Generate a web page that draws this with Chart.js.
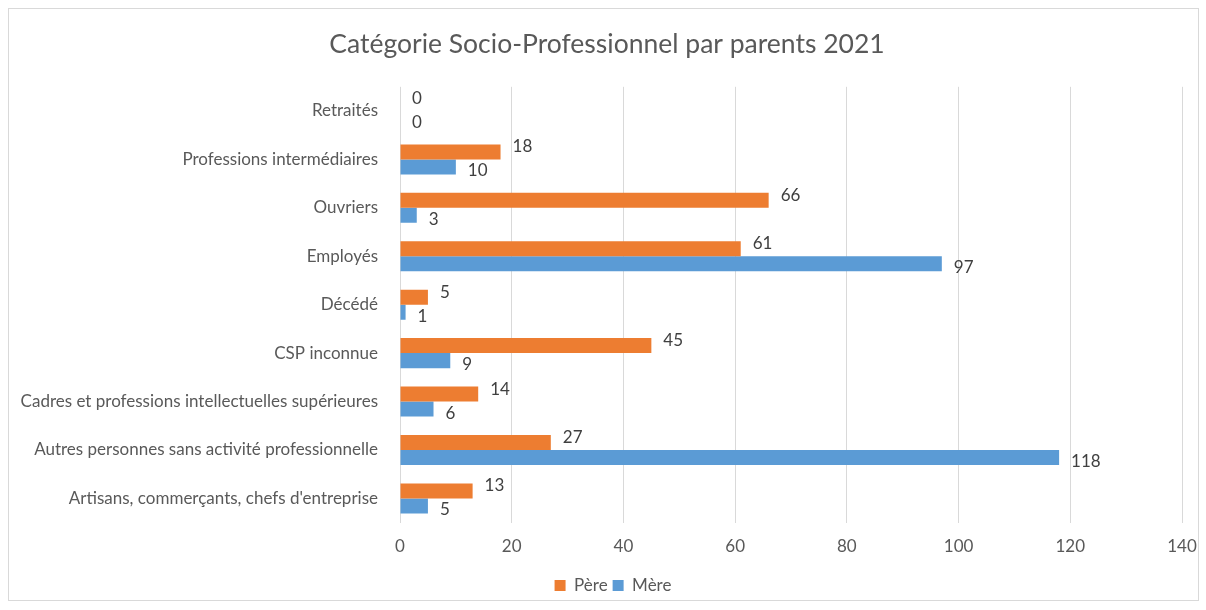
<!DOCTYPE html>
<html>
<head>
<meta charset="utf-8">
<script src="https://cdn.jsdelivr.net/npm/chart.js@4"></script>
<style>
  html, body { margin: 0; padding: 0; background: #fff; }
  #wrap { position: relative; width: 1206px; height: 610px; }
  #frame { position: absolute; left: 8px; top: 8px; width: 1189px; height: 591px; border: 1px solid #d9d9d9; pointer-events: none; }
</style>
</head>
<body>
<div id="wrap">
  <canvas id="cspChart" width="1206" height="610"></canvas>
  <div id="frame"></div>
</div>
<script>
  // categories, top to bottom as in the picture
  const categories = [
    'Retraités',
    'Professions intermédiaires',
    'Ouvriers',
    'Employés',
    'Décédé',
    'CSP inconnue',
    'Cadres et professions intellectuelles supérieures',
    'Autres personnes sans activité professionnelle',
    'Artisans, commerçants, chefs d\'entreprise'
  ];
  const pere = [0, 18, 66, 61, 5, 45, 14, 27, 13];
  const mere = [0, 10, 3, 97, 1, 9, 6, 118, 5];
  const xTicks = [0, 20, 40, 60, 80, 100, 120, 140];

  const FONT = 'Lato, "Open Sans", sans-serif';
  const GREY = '#595959';

  // value labels next to bar ends
  const valueLabels = {
    id: 'valueLabels',
    afterDatasetsDraw(chart) {
      const ctx = chart.ctx;
      ctx.save();
      ctx.font = '17px ' + FONT;
      ctx.fillStyle = '#404040';
      ctx.textBaseline = 'middle';
      chart.data.datasets.forEach((ds, di) => {
        chart.getDatasetMeta(di).data.forEach((bar, i) => {
          const dy = di === 0 ? -5 : 4;
          ctx.fillText(String(ds.data[i]), bar.x + 12, bar.y + dy);
        });
      });
      ctx.restore();
    }
  };

  // nudge title and legend a bit right, like the Excel original
  const nudge = {
    id: 'nudge',
    afterLayout(chart) {
      chart.titleBlock.left += 10;
      chart.titleBlock.right += 10;
      chart.legend.left += 16;
      chart.legend.right += 16;
    }
  };

  const ctx = document.getElementById('cspChart').getContext('2d');
  const cspChart = new Chart(ctx, {
    type: 'bar',
    data: {
      labels: categories,
      datasets: [{
        label: 'Père',
        data: pere,
        backgroundColor: '#ED7D31',
        barPercentage: 1,
        categoryPercentage: 0.62
      }, {
        label: 'Mère',
        data: mere,
        backgroundColor: '#5B9BD5',
        barPercentage: 1,
        categoryPercentage: 0.62
      }]
    },
    options: {
      indexAxis: 'y',
      responsive: false,
      animation: false,
      layout: { padding: { left: 12, right: 24, top: 20, bottom: 6 } },
      plugins: {
        title: {
          display: true,
          text: 'Catégorie Socio-Professionnel par parents 2021',
          color: GREY,
          font: { family: FONT, size: 26.5, weight: 'normal' },
          padding: { top: 9, bottom: 26 }
        },
        legend: {
          position: 'bottom',
          labels: {
            color: GREY,
            font: { family: FONT, size: 17 },
            boxWidth: 11,
            boxHeight: 11,
            padding: 5
          }
        },
        tooltip: { enabled: false }
      },
      scales: {
        x: {
          min: 0,
          max: 140,
          afterBuildTicks(scale) {
            scale.ticks = xTicks.map(v => ({ value: v }));
          },
          afterFit(scale) {
            scale.height += 1;
            scale.paddingRight = 0;
          },
          grid: { color: '#d9d9d9', drawTicks: false },
          border: { display: false },
          ticks: {
            color: GREY,
            font: { family: FONT, size: 17 },
            padding: 14
          }
        },
        y: {
          grid: { display: false },
          border: { display: false },
          afterFit(scale) { scale.width = 388; },
          ticks: {
            color: GREY,
            font: { family: FONT, size: 17 },
            padding: 14
          }
        }
      }
    },
    plugins: [valueLabels, nudge]
  });
</script>
</body>
</html>
